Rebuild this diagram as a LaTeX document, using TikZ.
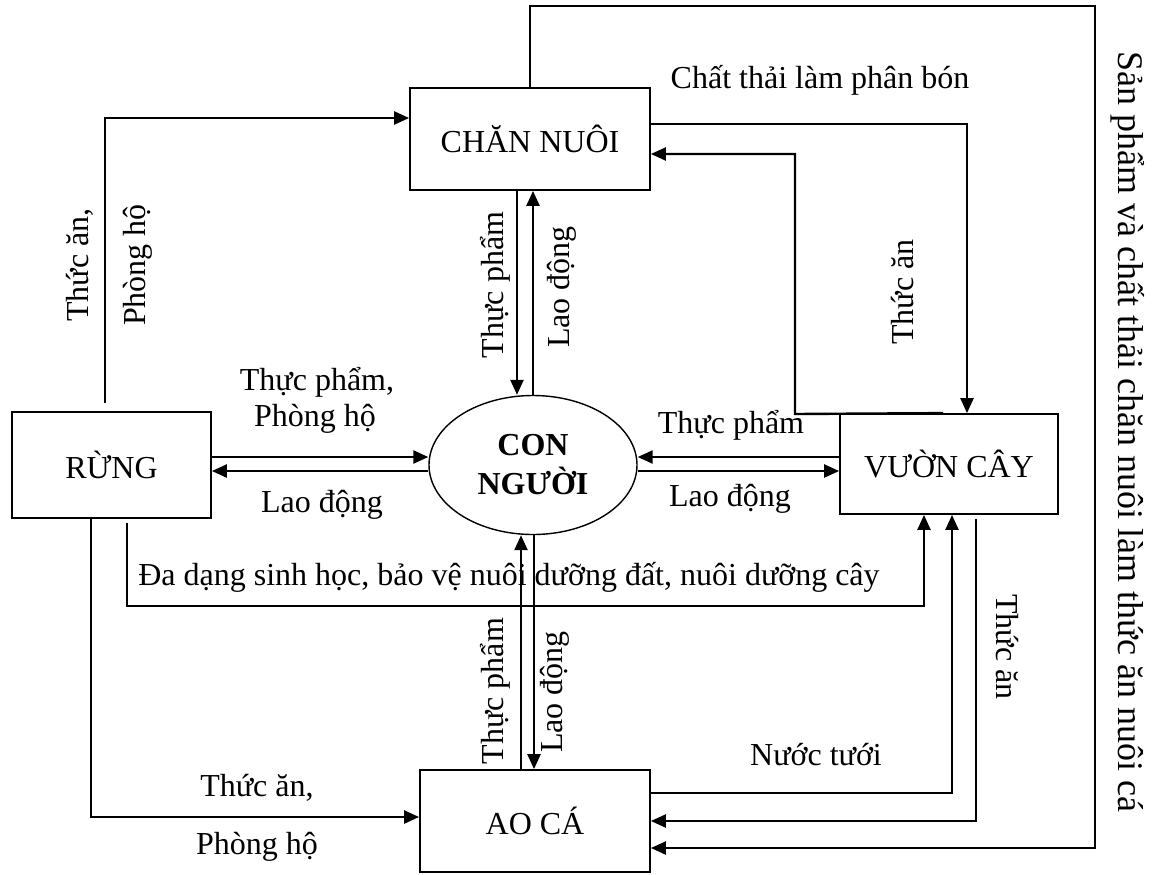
\documentclass[tikz,border=0pt]{standalone}
\usepackage{fontspec}
\setmainfont{Liberation Serif}
\usetikzlibrary{arrows.meta,shapes.geometric}
\begin{document}
\begin{tikzpicture}[x=0.5pt,y=-0.5pt,
  box/.style={draw,line width=0.9pt,inner sep=0pt,font=\fontsize{16}{19.5}\selectfont},
  lbl/.style={font=\fontsize{16}{19.5}\selectfont,inner sep=0pt},
  biglbl/.style={font=\fontsize{18}{21}\selectfont,inner sep=0pt},
  conn/.style={line width=1.2pt},
  arr/.style={conn,-{Triangle[length=7.5pt,width=6.5pt]}},
]
\useasboundingbox (0,0) rectangle (1157,874);
% nodes
\node[box,minimum width=120pt,minimum height=51pt] (CN) at (530,139) {CHĂN NUÔI};
\node[box,minimum width=99.5pt,minimum height=53pt] (RUNG) at (111.5,465) {RỪNG};
\node[box,minimum width=109pt,minimum height=50pt] (VC) at (949,464) {VƯỜN CÂY};
\node[box,minimum width=115pt,minimum height=51pt] (AO) at (535,821) {AO CÁ};
\node[ellipse,draw,line width=0.7pt,minimum width=104pt,minimum height=69.5pt,inner sep=0pt,align=center,font=\bfseries\fontsize{16}{19.5}\selectfont] (CON) at (533,465) {CON\\NGƯỜI};
% free ends
\coordinate (rTop) at (105,403);
\coordinate (rBot2) at (127,523);
\coordinate (vBot3) at (976,519);
% connectors
\draw[arr] (rTop) |- (CN.west |- 0,118);
\draw[arr] (CN.north) |- (1095,6) |- (AO.east |- 0,848);
\draw[arr] (CN.east |- 0,124) -| (VC.north -| 967,0);
\draw[arr] (VC.north -| 943,0) -- (795,414) |- (CN.east |- 0,154);
\draw[arr] (CN.south -| 517,0) -- (CON.north -| 517,0);
\draw[arr] (CON.north) -- (CN.south -| CON.north);
\draw[arr] (RUNG.east |- 0,457) -- (CON.west |- 0,457);
\draw[arr] (CON.west |- 0,471) -- (RUNG.east |- 0,471);
\draw[arr] (VC.west |- 0,457) -- (CON.east |- 0,457);
\draw[arr] (CON.east |- 0,471) -- (VC.west |- 0,471);
\draw[arr] (rBot2) |- (924,606) -- (VC.south -| 924,0);
\draw[arr] (RUNG.south -| 91,0) |- (AO.west |- 0,817);
\draw[arr] (AO.north -| 521,0) -- (CON.south -| 521,0);
\draw[arr] (CON.south -| 534,0) -- (AO.north -| 534,0);
\draw[arr] (AO.east |- 0,793) -| (VC.south -| 952,0);
\draw[arr] (vBot3) |- (AO.east |- 0,821);
% labels
\node[lbl] (t1) at (820,80) {Chất thải làm phân bón};
\node[lbl,rotate=90] (t2) at (495,285) {Thực phẩm};
\node[lbl,rotate=90] (t3) at (562,287) {Lao động};
\node[lbl,rotate=90] (t4) at (903,292) {Thức ăn};
\node[lbl,rotate=90] (t5) at (80,265) {Thức ăn,};
\node[lbl,rotate=90] (t6) at (138,265) {Phòng hộ};
\node[lbl] (t7) at (317,382) {Thực phẩm,};
\node[lbl] (t8) at (315,419) {Phòng hộ};
\node[lbl] (t9) at (322,505) {Lao động};
\node[lbl] (t10) at (731,425) {Thực phẩm};
\node[lbl] (t11) at (730,499) {Lao động};
\node[lbl] (t12) at (509,577) {Đa dạng sinh học, bảo vệ nuôi dưỡng đất, nuôi dưỡng cây};
\node[lbl,rotate=90] (t13) at (495,691) {Thực phẩm};
\node[lbl,rotate=90] (t14) at (555,692) {Lao động};
\node[lbl] (t15) at (816,755) {Nước tưới};
\node[lbl,rotate=-90] (t16) at (1007,647) {Thức ăn};
\node[lbl] (t17) at (257,788) {Thức ăn,};
\node[lbl] (t18) at (257,847) {Phòng hộ};
\node[biglbl,rotate=-90] (t19) at (1128,432) {Sản phẩm và chất thải chăn nuôi làm thức ăn nuôi cá};
\end{tikzpicture}
\end{document}
